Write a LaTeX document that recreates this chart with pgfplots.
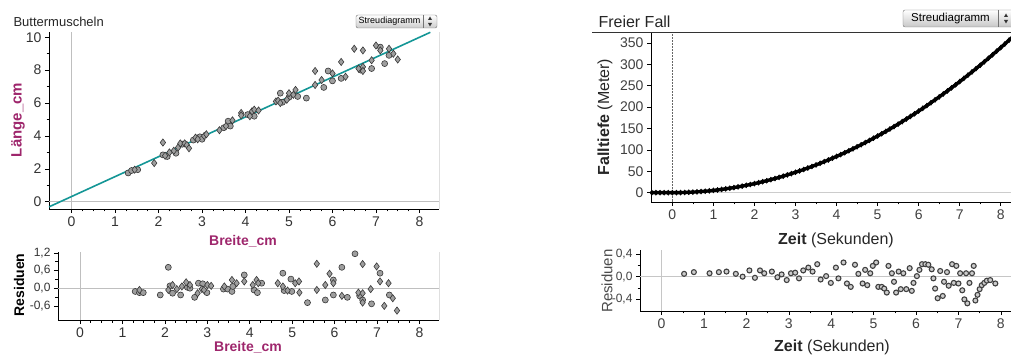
\documentclass[border=0pt]{standalone}
\usepackage{pgfplots}
\pgfplotsset{compat=1.18}
\usepackage{fontspec}
\setmainfont{Liberation Sans}
\definecolor{maroon}{RGB}{158,38,108}
\definecolor{tealline}{RGB}{20,150,150}
\definecolor{ptfill}{RGB}{158,158,158}
\definecolor{ptdraw}{RGB}{55,55,55}
\newcommand\fs[1]{\fontsize{#1bp}{#1bp}\selectfont}
\pgfplotsset{
  base/.style={scale only axis, anchor=south west,
    axis x line=bottom, axis y line=left,
    axis line style={-, black, line width=0.9bp},
    inner axis line style={-}, outer axis line style={-},
    tick align=outside, major tick length=4bp, minor tick length=2.5bp,
    every tick/.style={black, line width=0.6bp},
    /pgf/number format/assume math mode=true,
    tick label style={text=black!80},
    xticklabel style={font=\fs{14}},
    yticklabel style={font=\fs{14}},
    xtick={0,...,8}},
  lpt/.style={only marks, mark size=3bp, mark options={fill=ptfill, draw=ptdraw, line width=0.6bp}},
  lptd/.style={only marks, mark=diamond*, mark size=3.6bp, mark options={fill=ptfill, draw=ptdraw, line width=0.6bp}},
  comma/.style={/pgf/number format/.cd, fixed, fixed zerofill, precision=1, use comma}
}
\begin{document}
\begin{tikzpicture}
\useasboundingbox (0,0) rectangle (1011bp,355bp);
% ---------------- left main
\begin{axis}[base, at={(49bp,146bp)}, width=390bp, height=177bp,
  xmin=-0.52, xmax=8.45, ymin=-0.44, ymax=10.32,
  ytick={0,2,...,10}, minor x tick num=3, minor y tick num=1]
\addplot[gray!50, line width=0.8bp] coordinates {(0,-0.44) (0,10.32)};
\addplot[gray!50, line width=0.8bp] coordinates {(-0.52,0) (8.45,0)};
\addplot[lpt, mark=*] table {
1.30 1.75
1.38 1.90
1.52 1.95
2.10 2.85
2.20 2.75
2.40 2.95
2.55 3.50
2.80 3.75
2.95 3.95
3.00 3.80
3.50 4.50
3.60 4.90
3.65 4.60
4.05 5.30
4.20 5.20
4.80 6.60
4.85 6.05
5.00 6.35
5.20 6.40
5.40 6.30
5.80 6.95
5.90 7.95
6.00 7.35
6.20 7.50
6.65 8.00
6.90 8.10
7.10 9.40
7.20 8.40
7.30 8.90
};
\addplot[lptd] table {
1.45 1.95
1.90 2.35
2.10 3.60
2.15 2.80
2.25 3.00
2.35 3.10
2.45 3.30
2.50 3.55
2.60 3.55
2.65 3.45
2.70 3.25
2.85 3.90
2.90 3.80
3.05 4.00
3.10 4.10
3.40 4.35
3.55 4.60
3.70 4.95
3.90 5.40
3.90 5.25
4.10 5.20
4.15 5.50
4.20 5.60
4.30 5.55
4.70 6.10
4.75 6.15
4.80 6.00
4.95 6.20
5.00 6.60
5.10 6.50
5.15 6.80
5.60 7.95
5.60 7.10
5.75 7.40
6.00 7.80
6.20 8.50
6.30 7.60
6.50 9.30
6.60 8.10
6.70 9.20
6.70 8.20
6.70 7.95
6.90 8.60
7.00 9.50
7.10 9.20
7.30 9.30
7.40 9.00
7.50 8.65
};
\addplot[tealline, line width=1.6bp] coordinates {(-0.52,-0.31) (8.25,10.30)};
\draw[black, line width=0.9bp] (rel axis cs:1,0) -- (rel axis cs:1,1);
\end{axis}
% ---------------- left residuals
\begin{axis}[base, at={(58bp,35bp)}, width=381bp, height=68bp,
  xmin=-0.52, xmax=8.46, ymin=-1.08, ymax=1.23,
  ytick={-0.6,0,0.6,1.2}, yticklabel style={font=\fs{12}, comma},
  minor x tick num=3, minor y tick num=1]
\addplot[gray!50, line width=0.8bp] coordinates {(0,-1.08) (0,1.23)};
\addplot[gray!50, line width=0.8bp] coordinates {(-0.52,0) (8.46,0)};
\addplot[lpt, mark=*] table {
1.30 -0.11
1.40 -0.15
1.49 -0.15
1.89 -0.23
2.08 0.71
2.12 0.08
2.18 -0.17
2.37 -0.23
2.53 0.03
2.59 0.00
2.70 -0.31
2.79 0.17
2.89 0.15
2.99 -0.15
3.38 -0.03
3.48 -0.03
3.58 -0.11
3.60 0.06
3.87 0.45
4.10 -0.06
4.18 -0.15
4.28 0.17
4.78 0.51
4.81 -0.08
4.97 0.31
4.99 -0.11
5.36 -0.49
5.78 -0.40
5.97 0.28
5.97 -0.23
6.17 0.71
6.30 -0.31
6.48 1.17
6.59 -0.26
6.66 -0.40
6.87 -0.53
7.07 0.51
7.29 -0.23
};
\addplot[lptd] table {
1.40 -0.06
2.08 -0.06
2.18 0.11
2.28 -0.03
2.40 0.06
2.50 0.20
2.59 0.11
2.77 -0.17
2.87 -0.03
2.92 -0.06
3.00 0.11
3.09 0.08
3.40 0.06
3.58 0.28
3.69 0.17
3.87 0.23
4.07 0.11
4.16 0.28
4.20 0.17
4.66 0.17
4.78 0.06
4.89 -0.08
5.07 0.17
5.16 0.23
5.17 -0.15
5.58 0.83
5.58 -0.06
5.78 0.11
5.88 0.49
5.97 0.17
6.17 -0.26
6.56 -0.15
6.66 0.82
6.66 -0.17
6.66 -0.49
6.85 -0.03
6.99 0.74
7.07 0.23
7.17 -0.60
7.27 0.17
7.37 -0.34
7.47 -0.76
};
\draw[black, line width=0.9bp] (rel axis cs:1,0) -- (rel axis cs:1,1);
\end{axis}
% ---------------- right main
\begin{axis}[base, at={(651bp,153bp)}, width=360bp, height=170bp,
  xmin=-0.52, xmax=8.25, ymin=-21.8, ymax=375.7,
  ytick={0,50,...,350}, minor x tick num=1,
  tick label style={text=black!75}]
\addplot[black!60, line width=0.5bp, densely dotted] coordinates {(0,-21.8) (0,375.7)};
\addplot[gray!40, line width=0.8bp] coordinates {(-0.52,0) (8.25,0)};
\addplot[black, line width=3.4bp, mark=diamond*, mark size=2.6bp, mark options={line width=0.4bp}] table {
-0.5 0
-0.4 0
-0.3 0
-0.2 0
-0.1 0
0.0 0.0
0.1 0.1
0.2 0.2
0.3 0.5
0.4 0.9
0.5 1.3
0.6 1.9
0.7 2.6
0.8 3.4
0.9 4.3
1.0 5.3
1.1 6.4
1.2 7.6
1.3 9.0
1.4 10.4
1.5 11.9
1.6 13.6
1.7 15.3
1.8 17.2
1.9 19.1
2.0 21.2
2.1 23.4
2.2 25.7
2.3 28.0
2.4 30.5
2.5 33.1
2.6 35.8
2.7 38.6
2.8 41.6
2.9 44.6
3.0 47.7
3.1 50.9
3.2 54.3
3.3 57.7
3.4 61.3
3.5 64.9
3.6 68.7
3.7 72.6
3.8 76.5
3.9 80.6
4.0 84.8
4.1 89.1
4.2 93.5
4.3 98.0
4.4 102.6
4.5 107.3
4.6 112.1
4.7 117.1
4.8 122.1
4.9 127.3
5.0 132.5
5.1 137.9
5.2 143.3
5.3 148.9
5.4 154.5
5.5 160.3
5.6 166.2
5.7 172.2
5.8 178.3
5.9 184.5
6.0 190.8
6.1 197.2
6.2 203.7
6.3 210.4
6.4 217.1
6.5 223.9
6.6 230.9
6.7 237.9
6.8 245.1
6.9 252.3
7.0 259.7
7.1 267.2
7.2 274.8
7.3 282.4
7.4 290.2
7.5 298.1
7.6 306.1
7.7 314.2
7.8 322.5
7.9 330.8
8.0 339.2
8.1 347.7
8.2 356.4
8.3 365.1
};
\end{axis}
% ---------------- right residuals
\begin{axis}[base, at={(640bp,44bp)}, width=371bp, height=61bp,
  xmin=-0.51, xmax=8.24, ymin=-0.605, ymax=0.47,
  ytick={-0.4,0,0.4}, yticklabel style={font=\fs{12}, comma},
  minor x tick num=1, minor y tick num=1,
  tick label style={text=black!75}]
\addplot[gray!45, line width=0.8bp] coordinates {(0,-0.605) (0,0.47)};
\addplot[gray!45, line width=0.8bp] coordinates {(-0.51,0) (8.24,0)};
\addplot[only marks, mark=*, mark size=2.5bp, mark options={fill=black!20, draw=black!75, line width=1.1bp}] table {
0.53 0.05
0.76 0.08
1.13 0.06
1.35 0.08
1.53 0.09
1.75 0.05
1.91 0.00
2.07 0.11
2.20 -0.02
2.32 0.11
2.42 0.06
2.60 0.09
2.73 -0.01
2.83 0.04
2.95 -0.06
3.05 0.06
3.15 0.07
3.24 -0.03
3.34 0.11
3.46 0.16
3.56 0.09
3.67 0.22
3.75 -0.05
3.88 0.01
3.99 -0.11
4.11 0.16
4.17 -0.03
4.29 0.25
4.37 -0.12
4.46 -0.18
4.56 0.21
4.64 0.05
4.74 -0.12
4.80 0.12
4.85 -0.15
4.92 0.06
4.98 0.19
5.06 0.25
5.11 -0.18
5.19 -0.18
5.25 -0.21
5.31 -0.28
5.35 0.19
5.43 0.06
5.48 -0.09
5.53 -0.28
5.59 0.09
5.64 -0.22
5.70 0.06
5.77 -0.22
5.85 0.15
5.90 -0.25
5.94 -0.11
6.02 0.01
6.08 0.12
6.14 0.22
6.22 0.22
6.29 0.21
6.37 0.13
6.41 -0.03
6.45 -0.21
6.51 -0.38
6.57 0.10
6.63 -0.34
6.66 -0.09
6.73 0.08
6.77 -0.16
6.85 0.22
6.89 -0.11
6.95 0.19
7.00 -0.12
7.04 0.06
7.09 -0.24
7.14 -0.40
7.18 0.06
7.21 -0.47
7.26 -0.11
7.32 0.06
7.36 0.19
7.40 -0.42
7.45 -0.32
7.50 -0.22
7.55 -0.15
7.61 -0.11
7.67 -0.07
7.75 -0.06
7.87 -0.12
};
\end{axis}
% ---------------- texts
\node[font=\fs{13}, anchor=base west, text=black!85] at (10bp,328bp) {Buttermuscheln};
\node[font=\bfseries\fs{15}, text=maroon, rotate=90] at (18bp,235bp) {Länge\_cm};
\node[font=\bfseries\fs{14}, text=maroon, anchor=base] at (243bp,109bp) {Breite\_cm};
\node[font=\bfseries\fs{14}, rotate=90] at (19bp,70bp) {Residuen};
\node[font=\bfseries\fs{14}, text=maroon, anchor=base] at (248bp,3.5bp) {Breite\_cm};
\node[font=\fs{16}, anchor=base west, text=black!85] at (595bp,327bp) {Freier Fall};
\draw[line width=1bp, black!80] (592bp,322.7bp) -- (1011bp,322.7bp);
\node[font=\fs{16}, rotate=90, text=black!85] at (605bp,238bp) {\textbf{Falltiefe} (Meter)};
\node[font=\fs{16}, anchor=base, text=black!85] at (836bp,110bp) {\textbf{Zeit} (Sekunden)};
\node[font=\fs{15}, rotate=90, text=black!70] at (607bp,74bp) {Residuen};
\node[font=\fs{16}, anchor=base, text=black!85] at (832bp,4bp) {\textbf{Zeit} (Sekunden)};
% buttons
\shade[top color=white, bottom color=black!20, draw=black!55, rounded corners=2bp] (356bp,327bp) rectangle (437bp,340bp);
\draw[black!55] (423bp,327bp) -- (423bp,340bp);
\node[font=\fs{9}] at (389.5bp,333.5bp) {Streudiagramm};
\fill[black!80] (428bp,335bp) -- (432bp,335bp) -- (430bp,338.5bp) -- cycle;
\fill[black!80] (428bp,332bp) -- (432bp,332bp) -- (430bp,328.5bp) -- cycle;
\shade[top color=white, bottom color=black!22, draw=black!55, rounded corners=2bp] (903bp,328bp) rectangle (1016bp,345bp);
\draw[black!55] (998bp,328bp) -- (998bp,345bp);
\node[font=\fs{11.5}] at (950.5bp,336.5bp) {Streudiagramm};
\fill[black!80] (1004bp,338bp) -- (1008bp,338bp) -- (1006bp,341.5bp) -- cycle;
\fill[black!80] (1004bp,335bp) -- (1008bp,335bp) -- (1006bp,331.5bp) -- cycle;
\end{tikzpicture}
\end{document}
